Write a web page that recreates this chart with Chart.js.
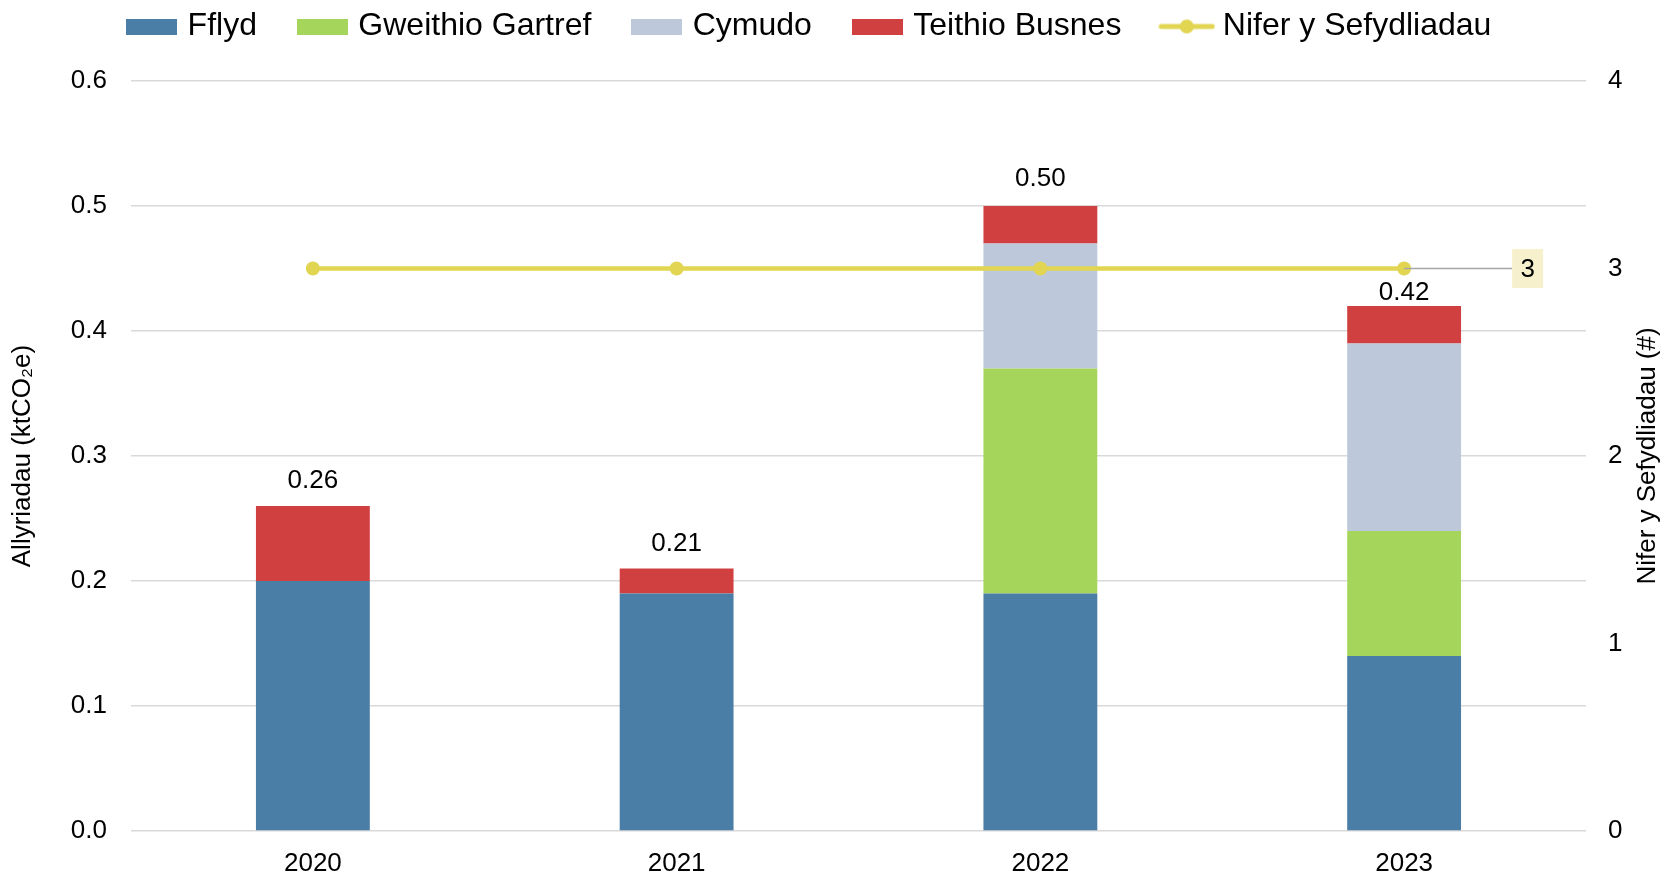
<!DOCTYPE html>
<html>
<head>
<meta charset="utf-8">
<script src="https://cdn.jsdelivr.net/npm/chart.js@4.4.0/dist/chart.umd.min.js"></script>
<style>
  html, body { margin: 0; padding: 0; background: #fff; }
  canvas { display: block; }
</style>
</head>
<body>
<canvas id="chart" width="1669" height="878"></canvas>
<script>
/* Allyriadau teithio (ktCO2e) fesul blwyddyn, bariau wedi'u pentyrru
   + nifer y sefydliadau ar yr echel dde. */
const years = ["2020", "2021", "2022", "2023"];
const fflyd = [0.20, 0.19, 0.19, 0.14];
const gweithioGartref = [0, 0, 0.18, 0.10];
const cymudo = [0, 0, 0.10, 0.15];
const teithioBusnes = [0.06, 0.02, 0.03, 0.03];
const niferSefydliadau = [3, 3, 3, 3];

const FONT = '"Liberation Sans", Arial, sans-serif';
const COLORS = {
  fflyd: "#4A7EA7",
  gweithio: "#A5D65B",
  cymudo: "#BDC9DB",
  teithio: "#D14040",
  nifer: "#E1D552"
};
// how far each total label sits above its bar (2023 is pushed down under the line)
const totalLift = [25, 25, 27, 13];
const RIGHT_TITLE = "Nifer y Sefydliadau (#)";

Chart.defaults.font.family = FONT;
Chart.defaults.color = "#000";

function swatch(color, kind) {
  const c = document.createElement("canvas");
  const g = c.getContext("2d");
  if (kind === "line") {
    c.width = 57; c.height = 16;
    g.strokeStyle = color; g.lineWidth = 5; g.lineCap = "round";
    g.beginPath(); g.moveTo(3, 8); g.lineTo(54, 8); g.stroke();
    g.fillStyle = color;
    g.beginPath(); g.arc(28.5, 8, 7, 0, Math.PI * 2); g.fill();
  } else {
    c.width = 51; c.height = 16;
    g.fillStyle = color; g.fillRect(0, 0, 51, 16);
  }
  return c;
}

const legendHeight = {
  id: "legendHeight",
  beforeInit(chart) {
    const fit = chart.legend.fit;
    chart.legend.fit = function () { fit.call(this); this.height = 115.9; };
  }
};

const annotate = {
  id: "annotate",
  afterDatasetsDraw(chart) {
    const { ctx, chartArea, scales: { x, y } } = chart;
    ctx.save();
    ctx.font = "26px " + FONT;
    ctx.fillStyle = "#000";
    ctx.textAlign = "center";
    ctx.textBaseline = "middle";
    years.forEach((yr, i) => {
      const total = fflyd[i] + gweithioGartref[i] + cymudo[i] + teithioBusnes[i];
      ctx.fillText(total.toFixed(2), x.getPixelForValue(i), y.getPixelForValue(total) - totalLift[i]);
    });

    // call-out for the last point of the line
    const meta = chart.getDatasetMeta(4);
    const pt = meta.data[meta.data.length - 1];
    const bx = pt.x + 108, bw = 31, bh = 39;
    ctx.strokeStyle = "#A6A6A6";
    ctx.lineWidth = 1.5;
    ctx.beginPath(); ctx.moveTo(pt.x, pt.y); ctx.lineTo(bx, pt.y); ctx.stroke();
    ctx.fillStyle = "#F6F1CC";
    ctx.fillRect(bx, pt.y - bh / 2, bw, bh);
    ctx.fillStyle = "#000";
    ctx.fillText(String(niferSefydliadau[niferSefydliadau.length - 1]), bx + bw / 2, pt.y + 1);

    // right axis title, read bottom to top
    ctx.translate(chart.width - 21, (chartArea.top + chartArea.bottom) / 2);
    ctx.rotate(-Math.PI / 2);
    ctx.fillText(RIGHT_TITLE, 0, 0);
    ctx.restore();
  }
};

const barSet = (label, data, color) => ({
  type: "bar", label, data, backgroundColor: color, legendIcon: swatch(color, "bar"),
  stack: "allyriadau", yAxisID: "y", order: 1,
  barPercentage: 0.313, categoryPercentage: 1.0, borderWidth: 0
});

new Chart(document.getElementById("chart"), {
  type: "bar",
  data: {
    labels: years,
    datasets: [
      barSet("Fflyd", fflyd, COLORS.fflyd),
      barSet("Gweithio Gartref", gweithioGartref, COLORS.gweithio),
      barSet("Cymudo", cymudo, COLORS.cymudo),
      barSet("Teithio Busnes", teithioBusnes, COLORS.teithio),
      {
        type: "line", label: "Nifer y Sefydliadau", data: niferSefydliadau,
        yAxisID: "y1", order: 0,
        borderColor: COLORS.nifer, backgroundColor: COLORS.nifer, borderWidth: 4.5,
        pointRadius: 7, pointBackgroundColor: COLORS.nifer, pointBorderWidth: 0,
        legendIcon: swatch(COLORS.nifer, "line")
      }
    ]
  },
  options: {
    responsive: false,
    animation: false,
    layout: { padding: { top: -34.9, left: -46, right: 0, bottom: 0 } },
    plugins: {
      tooltip: { enabled: false },
      legend: {
        position: "top",
        labels: {
          usePointStyle: true,
          pointStyleWidth: 40,
          boxHeight: 16,
          padding: 45.4,
          color: "#000",
          font: { size: 32 },
          generateLabels: (chart) => chart.data.datasets.map((ds, i) => ({
            text: ds.label,
            pointStyle: ds.legendIcon,
            datasetIndex: i,
            hidden: false,
            fillStyle: ds.backgroundColor,
            strokeStyle: "transparent",
            lineWidth: 0,
            fontColor: "#000"
          }))
        }
      }
    },
    scales: {
      x: {
        stacked: true,
        grid: { display: false },
        border: { display: false },
        ticks: { font: { size: 26 }, color: "#000", padding: 9 },
        afterFit: (s) => { s.height = 47; }
      },
      y: {
        stacked: true,
        position: "left",
        min: 0, max: 0.6,
        ticks: { stepSize: 0.1, font: { size: 26 }, color: "#000", padding: 24,
                 callback: (v) => Number(v).toFixed(1) },
        grid: { color: "#D9D9D9", lineWidth: 1.5, drawTicks: false },
        border: { display: false },
        title: { display: true, text: "Allyriadau (ktCO\u2082e)", font: { size: 26 }, color: "#000",
                 padding: { top: 53, bottom: 0 } },
        afterFit: (s) => { s.width = 177; }
      },
      y1: {
        position: "right",
        min: 0, max: 4,
        ticks: { stepSize: 1, font: { size: 26 }, color: "#000", padding: 22 },
        grid: { display: false, drawTicks: false },
        border: { display: false },
        title: { display: false },
        afterFit: (s) => { s.width = 83; }
      }
    }
  },
  plugins: [legendHeight, annotate]
});
</script>
</body>
</html>
